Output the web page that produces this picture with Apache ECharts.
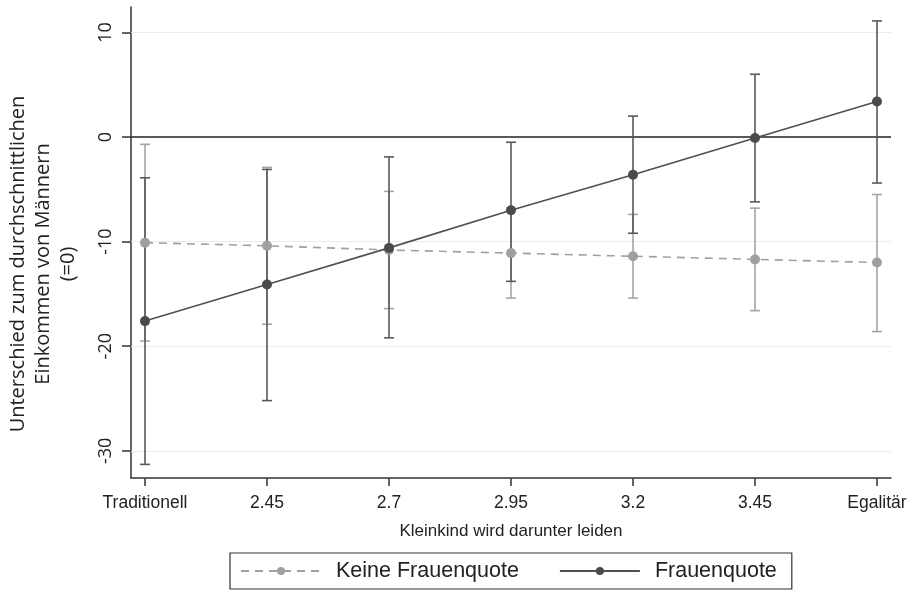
<!DOCTYPE html>
<html>
<head>
<meta charset="utf-8">
<script src="https://cdn.jsdelivr.net/npm/echarts@6/dist/echarts.min.js"></script>
<style>html,body{margin:0;padding:0;background:#fff}#c{width:914px;height:592px}</style>
</head>
<body>
<div id="c"></div>
<script>
// x positions (numeric scale) and their tick labels
var xValues = [2.2, 2.45, 2.7, 2.95, 3.2, 3.45, 3.7];
var xTickLabels = ['Traditionell', '2.45', '2.7', '2.95', '3.2', '3.45', 'Egalitär'];
var yTicks = [-30, -20, -10, 0, 10];

// Keine Frauenquote
var keineMean = [-10.1, -10.4, -10.8, -11.1, -11.4, -11.7, -12.0];
var keineLow  = [-19.5, -17.9, -16.4, -15.4, -15.4, -16.6, -18.6];
var keineHigh = [-0.7, -2.9, -5.2, -6.8, -7.4, -6.8, -5.5];

// Frauenquote
var frauenMean = [-17.6, -14.1, -10.6, -7.0, -3.6, -0.1, 3.4];
var frauenLow  = [-31.3, -25.2, -19.2, -13.8, -9.2, -6.2, -4.4];
var frauenHigh = [-3.9, -3.1, -1.9, -0.5, 2.0, 6.0, 11.1];

var seriesNames = ['Keine Frauenquote', 'Frauenquote'];
var xTitle = 'Kleinkind wird darunter leiden';
var yTitle = 'Unterschied zum durchschnittlichen\nEinkommen von Männern\n(=0)';

function pairs(xs, ys) { return xs.map(function (x, i) { return [x, ys[i]]; }); }
function triples(xs, lo, hi) { return xs.map(function (x, i) { return [x, lo[i], hi[i]]; }); }

function errorBars(color) {
  return function (params, api) {
    var x = api.value(0);
    var lo = api.coord([x, api.value(1)]);
    var hi = api.coord([x, api.value(2)]);
    var hw = 5;
    var st = { stroke: color, lineWidth: 1.6 };
    return {
      type: 'group',
      children: [
        { type: 'line', shape: { x1: lo[0], y1: lo[1], x2: hi[0], y2: hi[1] }, style: st },
        { type: 'line', shape: { x1: lo[0] - hw, y1: lo[1], x2: lo[0] + hw, y2: lo[1] }, style: st },
        { type: 'line', shape: { x1: hi[0] - hw, y1: hi[1], x2: hi[0] + hw, y2: hi[1] }, style: st }
      ]
    };
  };
}

var chart = echarts.init(document.getElementById('c'), null, { renderer: 'canvas' });
var gridLines = yTicks.filter(function (v) { return v !== 0; }).map(function (v) {
  return { yAxis: v, lineStyle: { color: '#ececec', width: 1.2, type: 'solid' } };
});
gridLines.push({ yAxis: 0, lineStyle: { color: '#222', width: 1.6, type: 'solid' } });

var option = {
  animation: false,
  backgroundColor: '#fff',
  grid: { left: 131, right: 23, top: 7, bottom: 114, containLabel: false },
  xAxis: {
    type: 'value', min: 2.1713, max: 3.7287,
    name: xTitle, nameLocation: 'middle', nameGap: 45,
    nameTextStyle: { fontFamily: 'Liberation Sans', fontSize: 17, color: '#222' },
    axisLine: { show: true, onZero: false, lineStyle: { color: '#333', width: 1.5 } },
    axisTick: { show: true, length: 8, customValues: xValues, lineStyle: { color: '#333', width: 1.5 } },
    axisLabel: {
      customValues: xValues, margin: 16,
      fontFamily: 'Liberation Sans', fontSize: 17.5, color: '#222',
      formatter: function (v) {
        for (var i = 0; i < xValues.length; i++) if (Math.abs(xValues[i] - v) < 1e-6) return xTickLabels[i];
        return '';
      }
    },
    splitLine: { show: false }
  },
  yAxis: {
    type: 'value', min: -32.6, max: 12.43,
    axisLine: { show: true, onZero: false, lineStyle: { color: '#333', width: 1.5 } },
    axisTick: { show: true, length: 9, customValues: yTicks, lineStyle: { color: '#333', width: 1.5 } },
    axisLabel: {
      customValues: yTicks, rotate: 90, margin: 16,
      fontFamily: 'Open Sans', fontSize: 18, color: '#222'
    },
    splitLine: { show: false }
  },
  legend: {
    data: seriesNames,
    left: 230, top: 553,
    orient: 'horizontal',
    itemWidth: 80, itemHeight: 10, itemGap: 40,
    padding: [7, 15, 7, 10],
    borderColor: '#333', borderWidth: 1.2,
    textStyle: { fontFamily: 'Liberation Sans', fontSize: 21.5, color: '#222', padding: [0, 0, 0, 10] }
  },
  graphic: [{
    type: 'text', x: 43, y: 264, rotation: Math.PI / 2,
    style: {
      text: yTitle, fontFamily: 'Open Sans', fontSize: 20, lineHeight: 25,
      fill: '#222', align: 'center', verticalAlign: 'middle'
    }
  }],
  series: [
    {
      type: 'custom', name: 'ciKeine', renderItem: errorBars('#a5a5a5'),
      data: triples(xValues, keineLow, keineHigh), z: 2, silent: true,
      markLine: { silent: true, symbol: 'none', label: { show: false }, data: gridLines, z: 1 }
    },
    {
      type: 'custom', name: 'ciFrauen', renderItem: errorBars('#595959'),
      data: triples(xValues, frauenLow, frauenHigh), z: 3, silent: true
    },
    {
      type: 'line', name: seriesNames[0], data: pairs(xValues, keineMean), z: 4,
      symbol: 'circle', symbolSize: 10, showAllSymbol: true,
      lineStyle: { color: '#a0a0a0', width: 1.6, type: [8, 6] },
      itemStyle: { color: '#a0a0a0' }
    },
    {
      type: 'line', name: seriesNames[1], data: pairs(xValues, frauenMean), z: 5,
      symbol: 'circle', symbolSize: 10, showAllSymbol: true,
      lineStyle: { color: '#505050', width: 1.6 },
      itemStyle: { color: '#4a4a4a' }
    }
  ]
};
chart.setOption(option);
</script>
</body>
</html>
